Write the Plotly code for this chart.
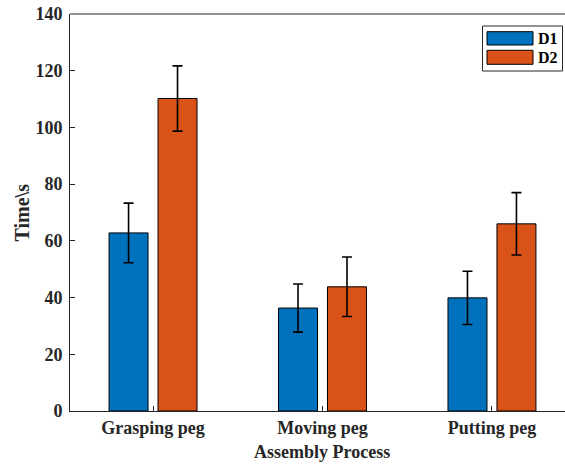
import plotly.graph_objects as go

categories = ["Grasping peg", "Moving peg", "Putting peg"]
series_names = ["D1", "D2"]
d1_values = [62.8, 36.3, 39.9]
d1_errors = [10.5, 8.5, 9.4]
d2_values = [110.2, 43.8, 66.0]
d2_errors = [11.5, 10.5, 11.0]
y_ticks = [0, 20, 40, 60, 80, 100, 120, 140]

colors = ["#0072BD", "#D95319"]
W, H = 565, 466
L, R, T, B = 70, 0, 14, 55
FONT = "Liberation Serif"
TXT = "#262626"

xpos = list(range(1, len(categories) + 1))

fig = go.Figure()
for name, vals, errs, col in [(series_names[0], d1_values, d1_errors, colors[0]),
                              (series_names[1], d2_values, d2_errors, colors[1])]:
    fig.add_trace(go.Bar(
        x=xpos, y=vals, name=name,
        marker=dict(color=col, line=dict(color="black", width=1)),
        error_y=dict(type="data", array=errs, visible=True, color="black",
                     thickness=1.6, width=5),
        showlegend=False,
    ))

def px2paper_x(px):
    return (px - L) / (W - L - R)

def py2paper_y(py):
    return (H - B - py) / (H - T - B)

shapes = []
shapes.append(dict(type="line", xref="paper", yref="paper", x0=0, x1=1, y0=1, y1=1,
                   line=dict(color=TXT, width=1)))
shapes.append(dict(type="rect", xref="paper", yref="paper",
                   x0=px2paper_x(482.5), x1=px2paper_x(562.5),
                   y0=py2paper_y(71), y1=py2paper_y(26),
                   line=dict(color=TXT, width=1), fillcolor="white"))
sw = [(31.7, 45), (50.3, 64.3)]
annotations = []
for (y0, y1), col, name in zip(sw, colors, series_names):
    shapes.append(dict(type="rect", xref="paper", yref="paper",
                       x0=px2paper_x(487), x1=px2paper_x(533),
                       y0=py2paper_y(y1), y1=py2paper_y(y0),
                       line=dict(color="black", width=1), fillcolor=col))
    annotations.append(dict(xref="paper", yref="paper", x=px2paper_x(536),
                            y=py2paper_y((y0 + y1) / 2 + 0.5), text="<b>%s</b>" % name,
                            showarrow=False, xanchor="left", yanchor="middle",
                            font=dict(family=FONT, size=16, color="black")))

annotations.append(dict(xref="paper", yref="paper", x=px2paper_x(322), y=py2paper_y(452),
                        text="<b>Assembly Process</b>", showarrow=False,
                        xanchor="center", yanchor="middle",
                        font=dict(family=FONT, size=18, color=TXT)))
annotations.append(dict(xref="paper", yref="paper", x=px2paper_x(21), y=py2paper_y(212.5),
                        text="<b>Time\\s</b>", showarrow=False, textangle=-90,
                        xanchor="center", yanchor="middle",
                        font=dict(family=FONT, size=20, color=TXT)))

fig.update_layout(
    width=W, height=H,
    margin=dict(l=L, r=R, t=T, b=B, pad=0),
    paper_bgcolor="white", plot_bgcolor="white",
    barmode="group", bargap=0.422, bargroupgap=0.204,
    font=dict(family=FONT, size=18, color=TXT),
    shapes=shapes, annotations=annotations,
    xaxis=dict(range=[0.510, 3.431], tickvals=xpos,
               ticktext=["<b>%s</b>" % c for c in categories],
               showline=True, linecolor=TXT, linewidth=1,
               ticks="inside", ticklen=5, tickcolor=TXT,
               showgrid=False, zeroline=False, ticklabelstandoff=0,
               tickfont=dict(family=FONT, size=18, color=TXT)),
    yaxis=dict(range=[0, 140], tickvals=y_ticks,
               ticktext=["<b>%d</b>" % v for v in y_ticks],
               showline=True, linecolor=TXT, linewidth=1,
               ticks="inside", ticklen=5, tickcolor=TXT,
               showgrid=False, zeroline=False, ticklabelstandoff=3,
               tickfont=dict(family=FONT, size=18, color=TXT)),
)

fig.write_html("out.html")
